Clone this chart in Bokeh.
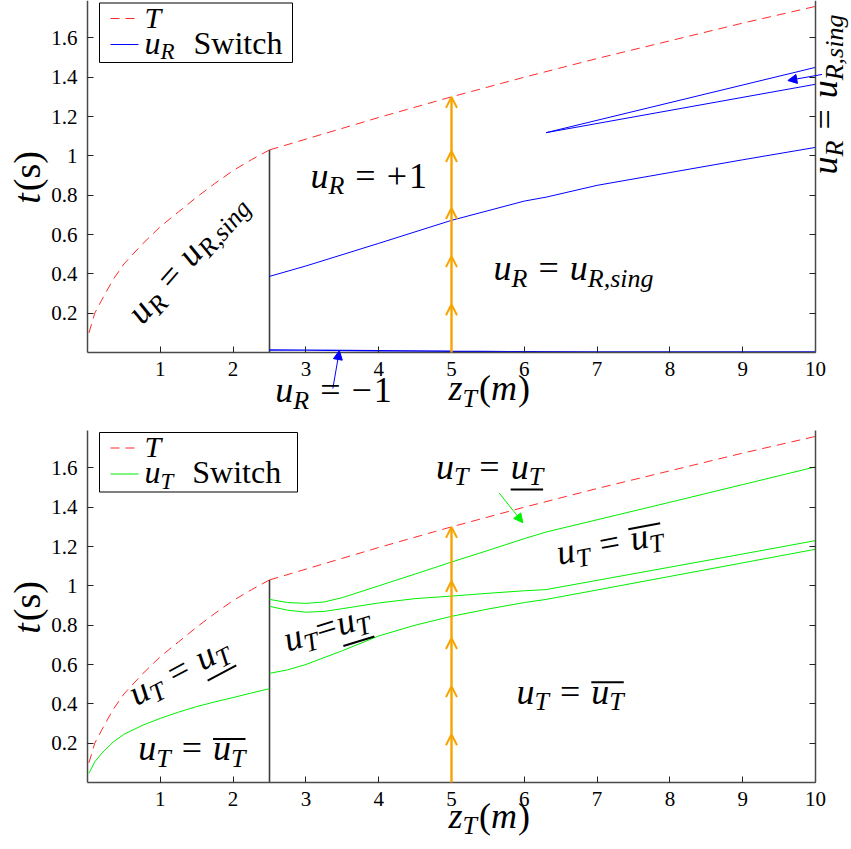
import math

from bokeh.embed import file_html
from bokeh.layouts import column
from bokeh.models import (Arrow, CustomJSTickFormatter, FixedTicker, Label,
                          LinearAxis, NormalHead, OpenHead, Range1d)
from bokeh.plotting import figure
from bokeh.resources import INLINE

# ---------------------------------------------------------------- data
x_ticks = [1, 2, 3, 4, 5, 6, 7, 8, 9, 10]
t_ticks = [0.2, 0.4, 0.6, 0.8, 1.0, 1.2, 1.4, 1.6]
z_span = (0, 10)
t_span = (0, 1.79)

# final-time boundary T(z_T), split at the switching abscissa z_T = 2.5
T_z_left = [0.02, 0.1, 0.2, 0.35, 0.5, 0.75, 1.0, 1.25, 1.5, 1.75, 2.0, 2.25, 2.5]
T_t_left = [0.10, 0.20, 0.27, 0.37, 0.45, 0.55, 0.64, 0.715, 0.79, 0.86, 0.925, 0.98, 1.03]
T_z_right = [2.5, 3, 4, 5, 6, 7, 8, 9, 10]
T_t_right = [1.03, 1.085, 1.195, 1.30, 1.40, 1.495, 1.585, 1.675, 1.76]

# u_R switching curves
uR_low_z = [2.5, 3, 4, 5, 6, 7, 8, 9, 10]
uR_low_t = [0.013, 0.012, 0.009, 0.006, 0.004, 0.003, 0.003, 0.003, 0.003]
uR_mid_z = [2.5, 3, 4, 5, 6, 6.3, 7, 8, 9, 10]
uR_mid_t = [0.387, 0.44, 0.555, 0.672, 0.77, 0.79, 0.85, 0.915, 0.98, 1.043]
uR_fork_z = [10, 6.3, 10]
uR_fork_t = [1.45, 1.118, 1.364]

# u_T switching curves
uT_left_z = [0.02, 0.1, 0.2, 0.35, 0.5, 0.75, 1.0, 1.25, 1.5, 1.75, 2.0, 2.25, 2.5]
uT_left_t = [0.047, 0.105, 0.15, 0.205, 0.245, 0.29, 0.326, 0.358, 0.386, 0.41, 0.432, 0.455, 0.477]
uT_z = [2.5, 2.75, 3.0, 3.25, 3.5, 4.0, 4.5, 5.0, 5.5, 6.0, 6.3, 7, 8, 9, 10]
uT_top_t = [0.931, 0.915, 0.911, 0.918, 0.94, 1.0, 1.06, 1.121, 1.18, 1.24, 1.274, 1.336, 1.425, 1.515, 1.605]
uT_mid_t = [0.896, 0.876, 0.866, 0.87, 0.884, 0.913, 0.935, 0.948, 0.962, 0.975, 0.981, 1.028, 1.095, 1.162, 1.23]
uT_bot_t = [0.555, 0.573, 0.60, 0.635, 0.67, 0.745, 0.80, 0.845, 0.882, 0.915, 0.931, 0.979, 1.048, 1.117, 1.186]

# sample trajectory at z_T = 5 with direction marks
traj_z = 5
traj_marks = [0.0, 0.245, 0.49, 0.735, 1.025, 1.30]

# annotation arrows: (z_start, t_start, z_end, t_end)
arrow_uR_fork = (10.09, 1.414, 9.62, 1.383)
arrow_uR_minus = (3.37, -0.183, 3.46, 0.01)
arrow_uT_lower = (5.655, 1.472, 5.98, 1.321)

# ---------------------------------------------------------------- style
FW, FH = 728, 352                     # size of the axes box in pixels
PX_X = FW / (z_span[1] - z_span[0])
PX_Y = FH / (t_span[1] - t_span[0])
PAD_L, PAD_R = 87, 36
FONT = "Liberation Serif"
RED, BLUE, GREEN, ORANGE = "#ff2a2a", "#0000ff", "#00f000", "#f7a400"
AXIS = "#4a4a4a"
MATH = 36

W_REG = {" ": .25, "(": .333, ")": .333, "+": .564, "=": .564, "1": .5,
         "\u2212": .564, "S": .556, "w": .722, "i": .278, "t": .278,
         "c": .444, "h": .5, "s": .389, ",": .25}
W_ITA = {"u": .5, "R": .611, "T": .556, "z": .389, "t": .278, "s": .389,
         "i": .278, "n": .5, "g": .5, "m": .722, ",": .25}


def text_width(text, italic, size):
    table = W_ITA if italic else W_REG
    return sum(table.get(ch, .5) for ch in text) * size


def put_math(p, x, y, tokens, size=MATH, angle=0.0, align="center"):
    """Lay out a small formula along a (rotated) baseline.

    tokens: (text, flags) with flags i=italic, s=subscript, u=underline,
    o=overline; (None, px) inserts a gap.
    """
    sub = round(size * 0.72)
    drop = 0.18 * size
    th = math.radians(angle)
    c, s = math.cos(th), math.sin(th)
    items, pen = [], 0.0
    for text, flags in tokens:
        if text is None:
            pen += flags
            continue
        fs = sub if "s" in flags else size
        w = text_width(text, "i" in flags, fs)
        items.append((text, flags, fs, pen, w))
        pen += w
    start = -pen / 2 if align == "center" else 0.0

    def to_data(u, v):
        return x + (u * c - v * s) / PX_X, y + (u * s + v * c) / PX_Y

    for text, flags, fs, u0, w in items:
        v = -drop if "s" in flags else 0.0
        # the label box is anchored on its centre line: lift it onto the baseline
        xd, yd = to_data(start + u0, v + 0.335 * fs)
        p.add_layout(Label(x=xd, y=yd, text=text, angle=th,
                           text_font=FONT, text_font_size=f"{fs}px",
                           text_font_style="italic" if "i" in flags else "normal",
                           text_color="black", text_align="left",
                           text_baseline="alphabetic"))
    for mark, v in (("u", -0.3 * size), ("o", 0.6 * size)):
        span = [(u0, u0 + w) for (_, f, _, u0, w) in items if mark in f]
        if span:
            a = start + min(a for a, _ in span)
            b = start + max(b for _, b in span)
            x0, y0 = to_data(a, v)
            x1, y1 = to_data(b, v)
            p.segment(x0=[x0], y0=[y0], x1=[x1], y1=[y1],
                      line_color="black", line_width=2)


GAP = (None, 11)
GAP_TIGHT = (None, 1)
F_uR = [("u", "i"), ("R", "is")]
F_uT = [("u", "i"), ("T", "is")]
LBL_R_SING = F_uR + [GAP, ("=", ""), GAP, ("u", "i"), ("R,sing", "is")]
LBL_R_PLUS = F_uR + [GAP, ("=", ""), GAP, ("+", ""), (None, 2), ("1", "")]
LBL_R_MINUS = F_uR + [GAP, ("=", ""), GAP, ("\u2212", ""), (None, 2), ("1", "")]
LBL_T_UNDER = F_uT + [GAP, ("=", ""), GAP, ("u", "iu"), ("T", "isu")]
LBL_T_OVER = F_uT + [GAP, ("=", ""), GAP, ("u", "io"), ("T", "iso")]
LBL_T_UNDER_TIGHT = F_uT + [GAP_TIGHT, ("=", ""), GAP_TIGHT, ("u", "iu"), ("T", "isu")]
LBL_ZT = [("z", "i"), ("T", "is"), (None, 2), ("(", ""), ("m", "i"), (None, 1), (")", "")]
LBL_TS = [("t", "i"), (None, 2), ("(", ""), ("s", ""), (")", "")]


def make_figure(pad_top, pad_bottom):
    # the canvas is all frame; the axes sit at z_T = 0 / t = 0 / z_T = 10
    x_range = Range1d(z_span[0] - PAD_L / PX_X, z_span[1] + PAD_R / PX_X)
    y_range = Range1d(t_span[0] - pad_bottom / PX_Y, t_span[1] + pad_top / PX_Y)
    p = figure(frame_width=FW + PAD_L + PAD_R, frame_height=FH + pad_top + pad_bottom,
               title=None, x_range=x_range, y_range=y_range,
               output_backend="svg", toolbar_location=None,
               min_border=0, min_border_left=0, min_border_right=0,
               min_border_top=0, min_border_bottom=0)
    p.outline_line_color = None
    p.xgrid.visible = False
    p.ygrid.visible = False
    p.background_fill_color = "white"
    p.border_fill_color = "white"

    right = LinearAxis(fixed_location=z_span[1])
    p.add_layout(right, "right")
    p.xaxis.fixed_location = t_span[0]
    p.yaxis[0].fixed_location = z_span[0]
    p.xaxis.bounds = z_span
    p.yaxis.bounds = t_span
    p.xaxis.ticker = FixedTicker(ticks=x_ticks)
    p.yaxis.ticker = FixedTicker(ticks=t_ticks)
    p.yaxis[0].formatter = CustomJSTickFormatter(
        code="return Number(tick.toFixed(1)).toString();")
    right.formatter = CustomJSTickFormatter(code="return '';")
    for ax in p.xaxis + p.yaxis:
        ax.axis_line_color = AXIS
        ax.axis_line_width = 1.5
        ax.major_tick_in = 6
        ax.major_tick_out = 0
        ax.major_tick_line_color = "#222222"
        ax.major_tick_line_width = 1
        ax.minor_tick_line_color = None
        ax.major_label_text_font = FONT
        ax.major_label_text_font_size = "21px"
        ax.major_label_text_color = "black"
    p.xaxis.major_label_standoff = 9
    p.yaxis[0].major_label_standoff = 10
    right.major_label_standoff = 0

    # final-time boundary and switching abscissa
    p.line(T_z_left, T_t_left, line_color=RED, line_width=1, line_dash="9 6")
    p.line(T_z_right, T_t_right, line_color=RED, line_width=1, line_dash="9 6")
    p.segment(x0=[T_z_right[0]], y0=[0], x1=[T_z_right[0]], y1=[T_t_right[0]],
              line_color="#3c3c3c", line_width=1.6)

    # trajectory at z_T = 5 with direction marks
    for a, b in zip(traj_marks[:-1], traj_marks[1:]):
        p.add_layout(Arrow(x_start=traj_z, y_start=a, x_end=traj_z, y_end=b,
                           line_color=ORANGE, line_width=2.4,
                           end=OpenHead(size=11, line_color=ORANGE, line_width=2)))
    return p


def box_px(px, py):
    """Pixel offset from the axes box's top-left corner -> data coordinates."""
    return z_span[0] + px / PX_X, t_span[1] - py / PX_Y


def add_legend(p, color, sub, box_right, top):
    x0, y_top = box_px(12, top)
    x1, y_bot = box_px(box_right, top + 59.5)
    p.quad(left=[x0], right=[x1], top=[y_top], bottom=[y_bot],
           fill_color="white", line_color="black", line_width=1)
    a, r1 = box_px(23, top + 15.5)
    b, r2 = box_px(51, top + 41.5)
    p.line([a, b], [r1, r1], line_color=RED, line_width=1, line_dash="9 6")
    p.line([a, b], [r2, r2], line_color=color, line_width=1.2)
    tx, ty = box_px(57, top + 24.5)
    put_math(p, tx, ty, [("T", "i")], size=30, align="left")
    tx, ty = box_px(57, top + 50.5)
    put_math(p, tx, ty, [("u", "i"), (sub, "is"), (None, 19), ("Switch", "")],
             size=32, align="left")


# ---------------------------------------------------------------- u_R panel
p1 = make_figure(0, 68)
p1.line(uR_low_z, uR_low_t, line_color=BLUE, line_width=1.4)
p1.line(uR_mid_z, uR_mid_t, line_color=BLUE, line_width=1)
p1.line(uR_fork_z, uR_fork_t, line_color=BLUE, line_width=1)
for zs, ts, ze, te in (arrow_uR_fork, arrow_uR_minus):
    p1.add_layout(Arrow(x_start=zs, y_start=ts, x_end=ze, y_end=te,
                        line_color=BLUE, line_width=1,
                        end=NormalHead(size=9, fill_color=BLUE, line_color=BLUE)))
add_legend(p1, BLUE, "R", 205, 2.5)

put_math(p1, 3.863, 0.838, LBL_R_PLUS)
put_math(p1, 6.676, 0.366, LBL_R_SING)
put_math(p1, 1.478, 0.443, LBL_R_SING, angle=49)
put_math(p1, 10.295, 1.312, LBL_R_SING, angle=90)
put_math(p1, 3.379, -0.253, LBL_R_MINUS)
put_math(p1, 5.518, -0.244, LBL_ZT)
put_math(p1, -0.66, 0.89, LBL_TS, size=38, angle=90)

# ---------------------------------------------------------------- u_T panel
p2 = make_figure(10, 67)
p2.line(uT_left_z, uT_left_t, line_color=GREEN, line_width=1)
p2.line(uT_z, uT_top_t, line_color=GREEN, line_width=1)
p2.line(uT_z, uT_mid_t, line_color=GREEN, line_width=1)
p2.line(uT_z, uT_bot_t, line_color=GREEN, line_width=1)
zs, ts, ze, te = arrow_uT_lower
p2.add_layout(Arrow(x_start=zs, y_start=ts, x_end=ze, y_end=te,
                    line_color=GREEN, line_width=1,
                    end=NormalHead(size=9, fill_color=GREEN, line_color=GREEN)))
add_legend(p2, GREEN, "T", 210, 2)

put_math(p2, 5.522, 1.545, LBL_T_UNDER)
put_math(p2, 7.2, 1.159, LBL_T_OVER, angle=11)
put_math(p2, 1.324, 0.516, LBL_T_UNDER, angle=28)
put_math(p2, 1.434, 0.112, LBL_T_OVER)
put_math(p2, 3.325, 0.73, LBL_T_UNDER_TIGHT, angle=17)
put_math(p2, 6.63, 0.40, LBL_T_OVER)
put_math(p2, 5.518, -0.232, LBL_ZT)
put_math(p2, -0.66, 0.89, LBL_TS, size=38, angle=90)

layout = column(p1, p2, spacing=0)
open("out.html", "w").write(file_html(layout, INLINE))
